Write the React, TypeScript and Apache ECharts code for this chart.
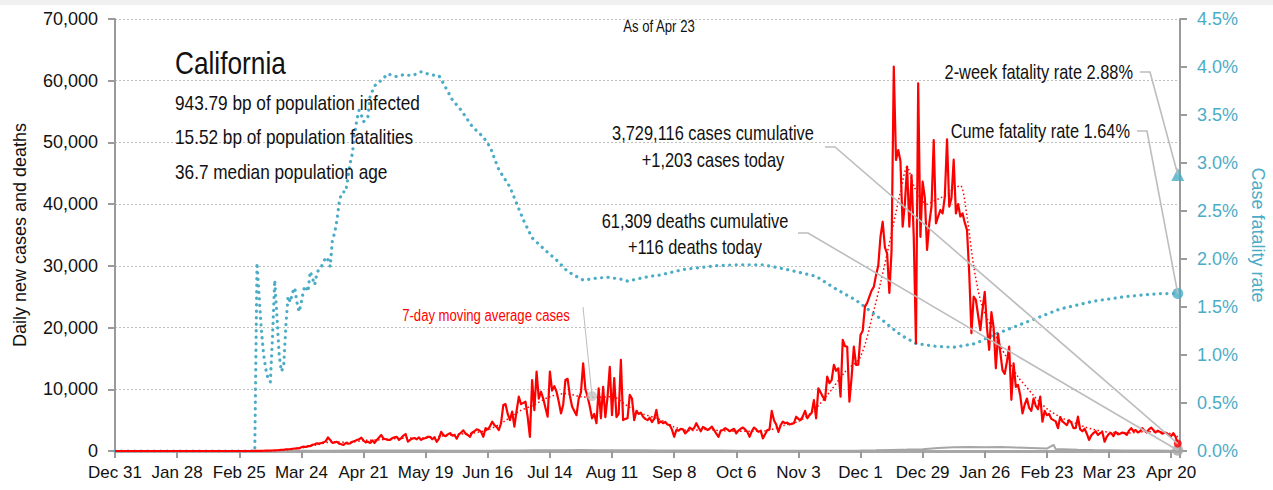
import React, { useEffect, useRef } from "react";
import * as echarts from "echarts";

// x axis: day index counted from Dec 31, 2019; ticks every 28 days
const tickLabels = ["Dec 31", "Jan 28", "Feb 25", "Mar 24", "Apr 21", "May 19", "Jun 16", "Jul 14", "Aug 11", "Sep 8", "Oct 6", "Nov 3", "Dec 1", "Dec 29", "Jan 26", "Feb 23", "Mar 23", "Apr 20"];

// daily new cases, day 0 (Dec 31 2019) .. day 479 (Apr 23 2021)
const cases = [
  0, 0, 0, 0, 0, 0, 0, 0, 0, 0,
  0, 0, 0, 0, 0, 0, 0, 0, 0, 0,
  0, 0, 0, 0, 0, 0, 0, 0, 0, 0,
  0, 0, 0, 0, 0, 0, 0, 0, 0, 0,
  0, 0, 0, 0, 0, 0, 0, 0, 0, 0,
  0, 0, 0, 0, 0, 0, 0, 0, 0, 0,
  0, 0, 10, 10, 20, 20, 30, 40, 50, 60,
  60, 80, 100, 120, 150, 180, 200, 250, 280, 300,
  350, 400, 450, 440, 600, 700, 650, 800, 800, 1000,
  1100, 1250, 1200, 1300, 1400, 1600, 2200, 1800, 1300, 1400,
  1500, 1200, 1100, 970, 1300, 1200, 1250, 1500, 1600, 1780,
  1900, 2160, 1700, 1400, 1500, 1300, 1700, 1300, 1800, 2200,
  2600, 2000, 1900, 1800, 1800, 2100, 2200, 2300, 1800, 2100,
  2500, 2750, 1500, 1800, 2000, 2100, 1900, 2200, 1800, 2000,
  2100, 2300, 2300, 1900, 2200, 1500, 2000, 3100, 2600, 2400,
  2700, 2900, 2500, 2600, 2000, 2700, 3000, 3350, 2800, 2600,
  2300, 3000, 3200, 3500, 3400, 3100, 2300, 3700, 3500, 4000,
  4750, 4200, 3900, 3400, 4500, 7450, 7600, 6000, 5000, 6400,
  3950, 6500, 8800, 7600, 7800, 8000, 5500, 2300, 11500, 6600,
  12850, 8500, 9600, 8500, 7000, 5560, 12850, 9800, 10500, 9600,
  8000, 6100, 7500, 11500, 11700, 9000, 7200, 6500, 5800, 8500,
  9500, 14200, 10000, 8800, 7200, 5300, 6000, 4500, 10150, 5300,
  10400, 5500, 8800, 13650, 5800, 11800, 5500, 6000, 14750, 5000,
  5200, 5300, 9100, 8500, 5000, 6500, 6000, 6200, 5550, 5200,
  5000, 5400, 4700, 5200, 6650, 4500, 4800, 4500, 4700, 4300,
  4200, 3500, 2300, 3400, 3300, 3600, 3500, 2850, 3200, 3800,
  3500, 3700, 4500, 3800, 3200, 3900, 3700, 3400, 3600, 3950,
  3400, 2800, 2300, 3300, 3400, 3700, 3500, 3200, 3400, 3600,
  2850, 3300, 3600, 3800, 3500, 3100, 2300, 3200, 3800, 3500,
  3100, 3300, 2050, 2700, 3400, 3500, 6500, 5000, 4300, 3100,
  4200, 4750, 4500, 4600, 4300, 4400, 4500, 5550, 5200, 5000,
  5600, 6500, 5300, 5800, 6200, 8250, 5300, 10150, 9500, 8800,
  8250, 12050, 11000, 11500, 13950, 13000, 13400, 8800, 18000, 17000,
  16900, 8000, 12000, 16900, 13950, 14000, 18800, 19500, 23400, 24000,
  25000, 26000, 26600, 28500, 30000, 34700, 37150, 33000, 32000, 25600,
  32500, 62270, 47150, 48770, 47000, 36350, 40130, 46070, 36350, 44720,
  34700, 17450, 59570, 34700, 43640, 41000, 32570, 36900, 39590, 50390,
  36890, 38000, 39050, 38500, 41200, 50500, 39590, 41000, 47200, 38500,
  40000, 38000, 38500, 37000, 35800, 28800, 19100, 25000, 24500, 22000,
  19600, 23000, 25800, 20000, 16400, 22500, 20000, 13400, 19000, 16000,
  13100, 12500, 14500, 16900, 8300, 14200, 10400, 10700, 9000, 6100,
  7500, 8500, 7000, 6500, 8500, 7300, 6800, 8800, 4750, 6500,
  5800, 6000, 5200, 5000, 4800, 3700, 5500, 4800, 4500, 4200,
  5000, 4600, 3700, 3700, 5560, 3500, 3200, 3600, 2800, 1800,
  2500, 2900, 3200, 2600, 2900, 3100, 1500, 2300, 2800, 2900,
  2400, 3100, 2700, 2800, 3000, 2900, 2600, 3300, 3700, 3200,
  3400, 3000, 3200, 3700, 3300, 3000, 3500, 3800, 3400, 3000,
  3300, 3100, 2800, 3000, 2900, 2600, 2400, 2900, 2300, 1203,
];

// 7-day moving average of cases [day, value]
const movingAvg = [
  [0, 0], [63, 0], [70, 50], [77, 200], [84, 500], [91, 1000], [98, 1500], [105, 1400], [112, 1700],
  [119, 1800], [126, 2000], [133, 2100], [140, 2100], [147, 2400], [154, 2700], [161, 2900], [168, 3400],
  [175, 4700], [182, 6400], [189, 7500], [196, 8800], [203, 9300], [210, 8800], [217, 8700], [224, 8800],
  [231, 7300], [238, 6000], [245, 5200], [252, 3900], [259, 3300], [266, 3500], [273, 3300], [280, 3200],
  [287, 3200], [294, 3300], [301, 4100], [308, 4800], [315, 6600], [322, 9500], [329, 12800], [336, 15300],
  [342, 22800], [345, 27200], [348, 32000], [351, 37000], [354, 42000], [357, 46000], [360, 43000],
  [363, 41000], [366, 40000], [369, 40500], [372, 41000], [375, 41500], [378, 42500], [381, 43000],
  [384, 38000], [387, 30000], [390, 24500], [393, 21500], [396, 19500], [399, 17000], [403, 14500],
  [407, 12000], [411, 10300], [414, 9000], [417, 7800], [421, 6600], [425, 5700], [429, 5000], [433, 4500],
  [437, 3900], [441, 3500], [445, 3200], [449, 3000], [456, 2900], [463, 3100], [470, 3100], [476, 2800],
  [479, 2300],
];

// daily deaths [day, value]
const deaths = [
  [0, 0], [63, 0], [70, 3], [77, 10], [84, 30], [91, 50], [98, 60], [105, 90], [112, 80], [119, 70],
  [126, 75], [133, 70], [140, 70], [147, 60], [154, 60], [161, 55], [168, 50], [175, 70], [182, 90],
  [189, 110], [196, 130], [203, 140], [210, 150], [217, 140], [224, 130], [231, 130], [238, 120],
  [245, 100], [252, 90], [259, 80], [266, 90], [273, 80], [280, 60], [287, 60], [294, 50], [301, 50],
  [308, 45], [315, 45], [322, 50], [329, 60], [336, 80], [343, 110], [350, 170], [357, 230], [364, 300],
  [371, 500], [378, 600], [385, 650], [392, 600], [399, 650], [406, 550], [413, 480], [420, 400],
  [423, 1000], [424, 300], [427, 280], [434, 200], [441, 150], [448, 120], [455, 90], [462, 80],
  [469, 70], [476, 60], [479, 116],
];

// case fatality rate, % [day, value]
const cfr = [
  [0, 0], [63, 0], [64, 1.96], [65, 1.6], [66, 1.25], [67, 1.0], [68, 0.85], [69, 0.75], [70, 0.72],
  [71, 1.2], [72, 1.78], [73, 1.4], [74, 1.0], [75, 0.83], [76, 0.88], [77, 1.3], [78, 1.61], [79, 1.55],
  [80, 1.65], [81, 1.7], [82, 1.55], [83, 1.45], [84, 1.55], [85, 1.68], [86, 1.72], [87, 1.66],
  [88, 1.87], [89, 1.8], [90, 1.73], [91, 1.85], [92, 1.9], [93, 1.92], [94, 1.97], [95, 2.02],
  [96, 1.99], [97, 1.92], [98, 2.2], [99, 2.27], [100, 2.4], [101, 2.58], [102, 2.68], [103, 2.7],
  [104, 2.7], [105, 2.85], [106, 3.0], [107, 3.1], [108, 3.3], [109, 3.45], [110, 3.55], [111, 3.5],
  [112, 3.43], [113, 3.45], [114, 3.48], [115, 3.7], [116, 3.75], [117, 3.8], [118, 3.83], [120, 3.86],
  [123, 3.93], [125, 3.91], [127, 3.9], [130, 3.92], [134, 3.91], [138, 3.95], [142, 3.92], [146, 3.91],
  [148, 3.83], [152, 3.66], [156, 3.55], [161, 3.38], [166, 3.27], [169, 3.17], [173, 2.93], [178, 2.75],
  [181, 2.58], [184, 2.41], [188, 2.22], [194, 2.09], [199, 1.99], [204, 1.87], [211, 1.78], [217, 1.8],
  [222, 1.81], [228, 1.79], [231, 1.77], [237, 1.8], [241, 1.82], [245, 1.83], [256, 1.89], [271, 1.93],
  [279, 1.94], [292, 1.94], [301, 1.9], [316, 1.82], [324, 1.7], [334, 1.57], [346, 1.36], [354, 1.21],
  [361, 1.12], [370, 1.09], [378, 1.08], [388, 1.12], [394, 1.19], [405, 1.29], [415, 1.38], [426, 1.48],
  [441, 1.56], [456, 1.61], [471, 1.64], [479, 1.64],
];

const lastDay = 479;
const casesToday = 1203;
const deathsToday = 116;
const twoWeekRate = 2.88;
const cumeRate = 1.64;
const maHighlight = [215, 8900];

const stateName = "California";
const statLines = ["943.79 bp of population infected", "15.52 bp of population fatalities", "36.7 median population age"];
const asOf = "As of Apr 23";
const casesNote = ["3,729,116 cases cumulative", "+1,203 cases today"];
const deathsNote = ["61,309 deaths cumulative", "+116 deaths today"];

const FONT = '"Liberation Sans", Arial, sans-serif';
const NARROW = 0.82;
const TEAL = "#4bacc6";
const RED = "#ff0000";
const GREY = "#9a9a9a";
const LEADER = "#bdbdbd";

export default function App() {
  const ref = useRef<HTMLDivElement>(null);

  useEffect(() => {
    const chart = echarts.init(ref.current as HTMLDivElement, null, { renderer: "svg" });
    const axisLine = { show: true, lineStyle: { color: GREY, width: 2 } };
    const axisTick = { show: true, inside: false, length: 7, lineStyle: { color: GREY, width: 2 } };
    chart.setOption({
      animation: false,
      textStyle: { fontFamily: FONT },
      grid: { left: 115, right: 93, top: 19, bottom: 39, containLabel: false, outerBoundsMode: "none" },
      xAxis: {
        type: "value", min: 0, max: 480, interval: 28,
        axisLine: { show: true, onZero: false, lineStyle: { color: "#a8a8a8", width: 3 } },
        axisTick: { show: true, length: 7, lineStyle: { color: GREY, width: 2 } },
        axisLabel: {
          margin: 13, fontSize: 17, color: "#111", fontFamily: FONT,
          formatter: (v: number) => (v % 28 === 0 ? tickLabels[v / 28] ?? "" : ""),
        },
        splitLine: { show: false },
      },
      yAxis: [
        {
          type: "value", min: 0, max: 70000, interval: 10000,
          name: "Daily new cases and deaths", nameLocation: "middle", nameGap: 86, nameRotate: 90,
          nameTextStyle: { fontSize: 18, color: "#111", fontFamily: FONT },
          axisLine, axisTick,
          axisLabel: { margin: 17, fontSize: 18, color: "#111", fontFamily: FONT, formatter: (v: number) => v.toLocaleString("en-US") },
          splitLine: { show: true, lineStyle: { color: "#bfbfbf", type: [2, 2], width: 1 } },
        },
        {
          type: "value", min: 0, max: 4.5, interval: 0.5, position: "right",
          name: "Case fatality rate", nameLocation: "middle", nameGap: 64, nameRotate: -90,
          nameTextStyle: { fontSize: 18, color: TEAL, fontFamily: FONT },
          axisLine, axisTick,
          axisLabel: { margin: 17, fontSize: 18, color: TEAL, fontFamily: FONT, formatter: (v: number) => v.toFixed(1) + "%" },
          splitLine: { show: false },
        },
      ],
      series: [
        {
          type: "line", yAxisIndex: 1, data: cfr, showSymbol: false, symbol: "none",
          lineStyle: { color: TEAL, width: 3.2, type: [0.1, 6.4], cap: "round" },
          z: 2,
        },
        {
          type: "line", yAxisIndex: 0, data: deaths, showSymbol: false, symbol: "none",
          lineStyle: { color: "#a6a6a6", width: 2 }, z: 3,
        },
        {
          type: "line", yAxisIndex: 0, data: movingAvg, showSymbol: false, symbol: "none", smooth: 0.3,
          lineStyle: { color: RED, width: 1.5, type: [1.5, 2.5] }, z: 4,
        },
        {
          type: "line", yAxisIndex: 0, data: cases.map((v, i) => [i, v]), showSymbol: false, symbol: "none",
          lineStyle: { color: RED, width: 2.2, join: "round" }, z: 5,
        },
        {
          type: "scatter", yAxisIndex: 0, clip: false, z: 7,
          data: [{ value: maHighlight, symbolSize: 10, itemStyle: { color: "#c4c4c4" } }],
        },
        {
          type: "scatter", yAxisIndex: 0, clip: false, z: 8,
          data: [
            { value: [lastDay, deathsToday], symbolSize: 11, itemStyle: { color: "#a6a6a6" } },
            { value: [lastDay, casesToday], symbolSize: 8, itemStyle: { color: RED } },
          ],
        },
        {
          type: "scatter", yAxisIndex: 1, clip: false, z: 8,
          data: [
            { value: [lastDay, twoWeekRate], symbol: "triangle", symbolSize: 13, itemStyle: { color: TEAL } },
            { value: [lastDay, cumeRate], symbol: "circle", symbolSize: 11, itemStyle: { color: TEAL } },
          ],
        },
      ],
    });

    const p0 = (pt: number[]) => chart.convertToPixel({ xAxisIndex: 0, yAxisIndex: 0 }, pt) as number[];
    const p1 = (pt: number[]) => chart.convertToPixel({ xAxisIndex: 0, yAxisIndex: 1 }, pt) as number[];
    const casesEnd = p0([lastDay, casesToday]);
    const deathsEnd = p0([lastDay, deathsToday]);
    const twoWeekPt = p1([lastDay, twoWeekRate]);
    const cumePt = p1([lastDay, cumeRate]);
    const maPt = p0(maHighlight);

    const txt = (x: number, y: number, text: string, size: number, align: string, color = "#111") => ({
      type: "text", x, y, z: 20, scaleX: NARROW,
      style: { text, fontSize: size, fontFamily: FONT, fill: color, align, verticalAlign: "middle" },
    });
    const leader = (points: number[][]) => ({
      type: "polyline", z: 15, shape: { points },
      style: { stroke: LEADER, lineWidth: 1.6, fill: "none" },
    });

    chart.setOption({
      graphic: [
        { type: "rect", shape: { x: 0, y: 0, width: 1273, height: 5 }, style: { fill: "#f0f0f0" }, z: 1 },
        txt(175, 63, stateName, 32, "left"),
        txt(175, 103, statLines[0], 21, "left"),
        txt(175, 137, statLines[1], 21, "left"),
        txt(175, 172, statLines[2], 21, "left"),
        txt(659, 27, asOf, 16, "center"),
        txt(713, 133, casesNote[0], 20, "center"),
        txt(713, 160, casesNote[1], 20, "center"),
        txt(695, 221, deathsNote[0], 20, "center"),
        txt(695, 247, deathsNote[1], 20, "center"),
        txt(1133, 72, "2-week fatality rate " + twoWeekRate.toFixed(2) + "%", 20, "right"),
        txt(1130, 131, "Cume fatality rate " + cumeRate.toFixed(2) + "%", 20, "right"),
        txt(486, 316, "7-day moving average cases", 16, "center", RED),
        leader([[825, 147], [835, 147], casesEnd]),
        leader([[798, 233], [808, 233], deathsEnd]),
        leader([[1140, 72], [1150, 72], twoWeekPt]),
        leader([[1137, 131], [1147, 131], cumePt]),
        { type: "line", z: 15, shape: { x1: 583, y1: 307, x2: maPt[0], y2: maPt[1] }, style: { stroke: LEADER, lineWidth: 1 } },
      ],
    });

    return () => chart.dispose();
  }, []);

  return (
    <div
      ref={ref}
      style={{ position: "absolute", left: 0, top: 0, width: 1273, height: 490, background: "#ffffff" }}
    />
  );
}
